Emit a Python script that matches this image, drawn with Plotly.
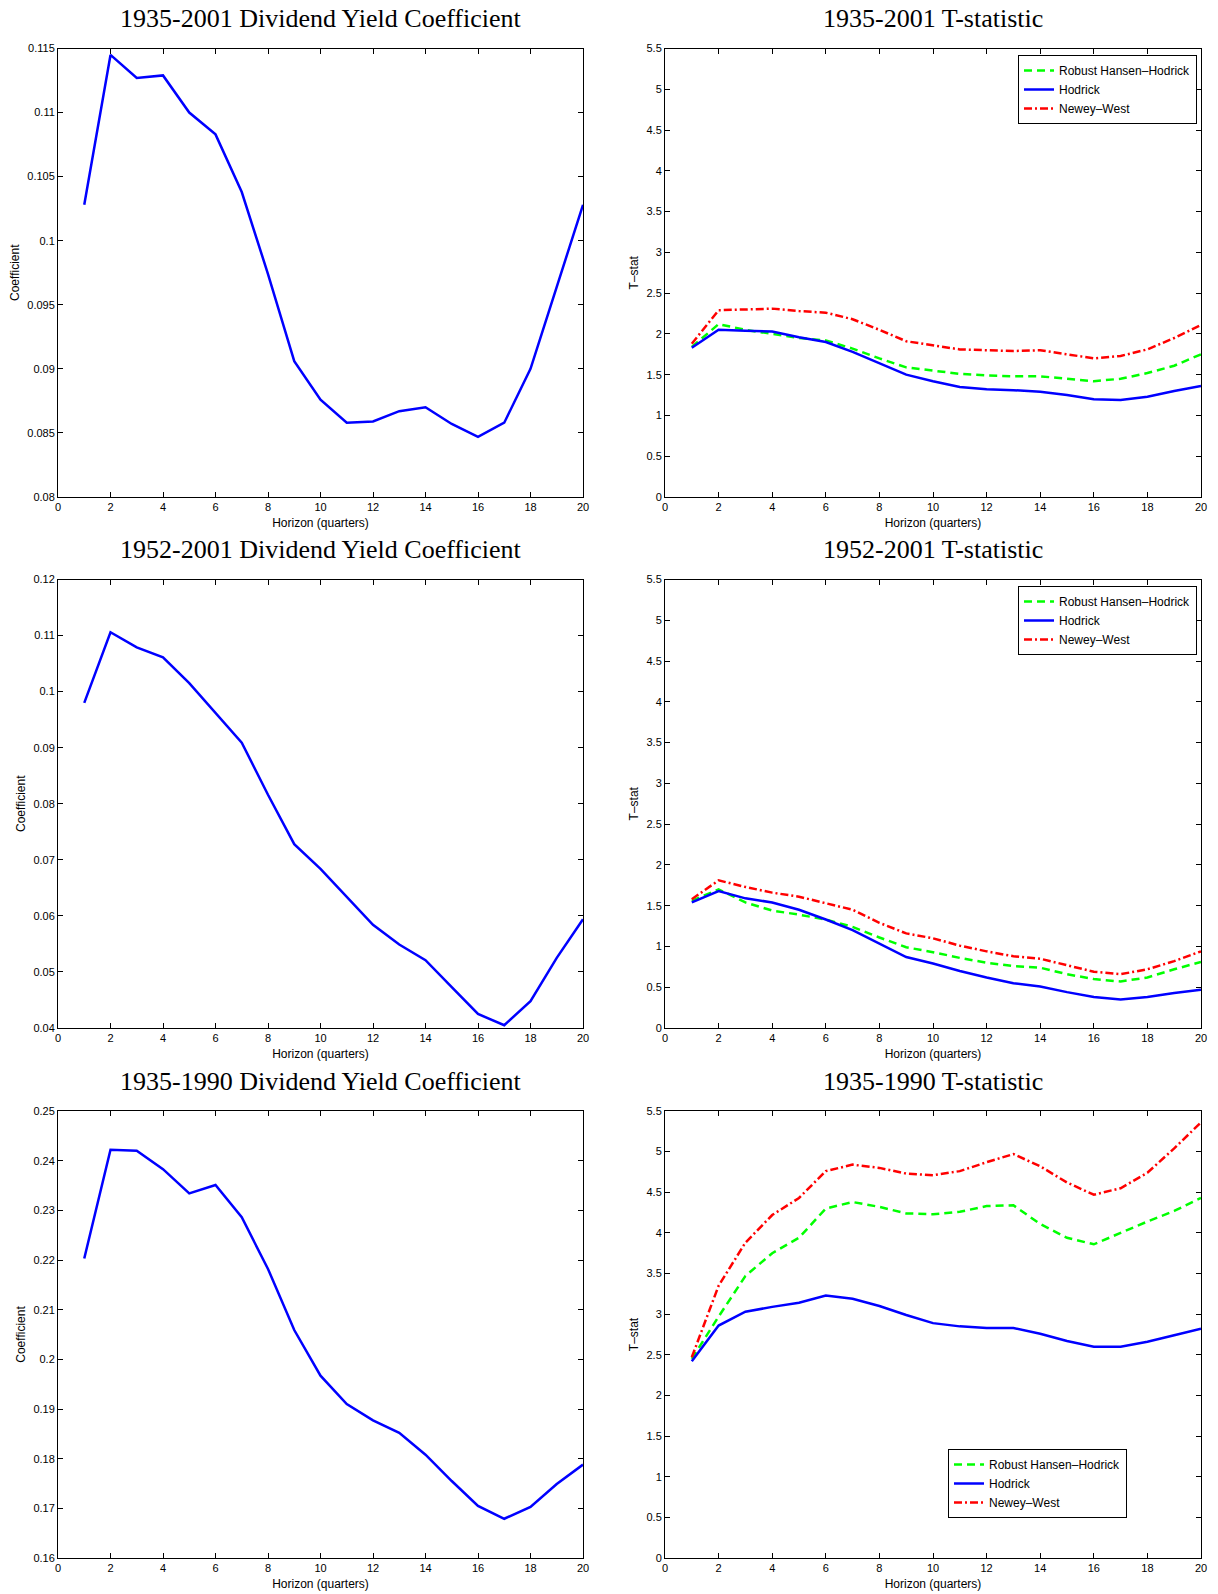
import plotly.graph_objects as go

horizon = list(range(1, 21))

coef_1935_2001 = [0.1028, 0.1145, 0.1127, 0.1129, 0.1100, 0.1083, 0.1038, 0.0974, 0.0906, 0.0876,
                  0.0858, 0.0859, 0.0867, 0.0870, 0.0857, 0.0847, 0.0858, 0.0900, 0.0964, 0.1028]
rhh_1935_2001 = [1.84, 2.12, 2.05, 2.00, 1.95, 1.92, 1.82, 1.70, 1.59, 1.55,
                 1.51, 1.49, 1.48, 1.48, 1.45, 1.42, 1.45, 1.52, 1.61, 1.75]
hod_1935_2001 = [1.83, 2.05, 2.04, 2.03, 1.96, 1.90, 1.78, 1.64, 1.50, 1.42,
                 1.35, 1.32, 1.31, 1.29, 1.25, 1.20, 1.19, 1.23, 1.30, 1.36]
nw_1935_2001 = [1.88, 2.29, 2.30, 2.31, 2.28, 2.26, 2.18, 2.05, 1.91, 1.86,
                1.81, 1.80, 1.79, 1.80, 1.75, 1.70, 1.73, 1.81, 1.95, 2.11]

coef_1952_2001 = [0.0980, 0.1106, 0.1079, 0.1061, 0.1015, 0.0962, 0.0909, 0.0816, 0.0728, 0.0684,
                  0.0634, 0.0584, 0.0549, 0.0521, 0.0473, 0.0425, 0.0405, 0.0448, 0.0525, 0.0594]
rhh_1952_2001 = [1.56, 1.70, 1.54, 1.44, 1.39, 1.33, 1.24, 1.11, 0.99, 0.93,
                 0.86, 0.80, 0.76, 0.74, 0.66, 0.60, 0.57, 0.62, 0.72, 0.81]
hod_1952_2001 = [1.54, 1.68, 1.59, 1.54, 1.45, 1.33, 1.20, 1.03, 0.87, 0.79,
                 0.70, 0.62, 0.55, 0.51, 0.44, 0.38, 0.35, 0.38, 0.43, 0.47]
nw_1952_2001 = [1.58, 1.81, 1.73, 1.66, 1.61, 1.53, 1.45, 1.29, 1.16, 1.10,
                1.01, 0.94, 0.88, 0.85, 0.77, 0.69, 0.66, 0.72, 0.82, 0.94]

coef_1935_1990 = [0.2203, 0.2422, 0.2420, 0.2383, 0.2334, 0.2351, 0.2286, 0.2182, 0.2059, 0.1967,
                  0.1910, 0.1877, 0.1852, 0.1808, 0.1755, 0.1705, 0.1679, 0.1703, 0.1749, 0.1788]
rhh_1935_1990 = [2.45, 2.97, 3.47, 3.75, 3.94, 4.30, 4.38, 4.32, 4.24, 4.23,
                 4.26, 4.33, 4.34, 4.11, 3.94, 3.86, 4.00, 4.14, 4.27, 4.43]
hod_1935_1990 = [2.42, 2.86, 3.03, 3.09, 3.14, 3.23, 3.19, 3.10, 2.99, 2.89,
                 2.85, 2.83, 2.83, 2.76, 2.67, 2.60, 2.60, 2.66, 2.74, 2.82]
nw_1935_1990 = [2.47, 3.35, 3.88, 4.22, 4.43, 4.76, 4.84, 4.80, 4.73, 4.71,
                4.76, 4.87, 4.97, 4.82, 4.62, 4.47, 4.55, 4.74, 5.04, 5.36]

x_ticks = list(range(0, 21, 2))
coef1_ticks = [0.08, 0.085, 0.09, 0.095, 0.1, 0.105, 0.11, 0.115]
coef1_labels = ["0.08", "0.085", "0.09", "0.095", "0.1", "0.105", "0.11", "0.115"]
coef2_ticks = [0.04, 0.05, 0.06, 0.07, 0.08, 0.09, 0.1, 0.11, 0.12]
coef2_labels = ["0.04", "0.05", "0.06", "0.07", "0.08", "0.09", "0.1", "0.11", "0.12"]
coef3_ticks = [0.16, 0.17, 0.18, 0.19, 0.2, 0.21, 0.22, 0.23, 0.24, 0.25]
coef3_labels = ["0.16", "0.17", "0.18", "0.19", "0.2", "0.21", "0.22", "0.23", "0.24", "0.25"]
t_ticks = [0, 0.5, 1, 1.5, 2, 2.5, 3, 3.5, 4, 4.5, 5, 5.5]
t_labels = ["0", "0.5", "1", "1.5", "2", "2.5", "3", "3.5", "4", "4.5", "5", "5.5"]

titles_left = ["1935-2001 Dividend Yield Coefficient", "1952-2001 Dividend Yield Coefficient",
               "1935-1990 Dividend Yield Coefficient"]
titles_right = ["1935-2001 T-statistic", "1952-2001 T-statistic", "1935-1990 T-statistic"]
series_names = ["Robust Hansen\u2013Hodrick", "Hodrick", "Newey\u2013West"]

W, H = 1218, 1594
SANS = "Liberation Sans, Arial, sans-serif"
SERIF = "Liberation Serif, Times New Roman, serif"

left_dom = [58 / W, 583 / W]
right_dom = [665 / W, 1201 / W]
row_px = [(48.5, 497), (579.5, 1028), (1111, 1558)]
row_dom = [[1 - b / H, 1 - t / H] for t, b in row_px]

fig = go.Figure()

coefs = [coef_1935_2001, coef_1952_2001, coef_1935_1990]
coef_ticks = [(coef1_ticks, coef1_labels, [0.08, 0.115]),
              (coef2_ticks, coef2_labels, [0.04, 0.12]),
              (coef3_ticks, coef3_labels, [0.16, 0.25])]
tstats = [(rhh_1935_2001, hod_1935_2001, nw_1935_2001),
          (rhh_1952_2001, hod_1952_2001, nw_1952_2001),
          (rhh_1935_1990, hod_1935_1990, nw_1935_1990)]

styles = [dict(color="#00FF00", dash="8px,5px"), dict(color="#0000FF", dash="solid"),
          dict(color="#FF0000", dash="8px,3px,2px,3px")]

axis_common = dict(showline=True, linecolor="black", linewidth=1, mirror="allticks",
                   ticks="inside", ticklen=5, tickwidth=1, tickcolor="black",
                   showgrid=False, zeroline=False, automargin=False,
                   tickfont=dict(family=SANS, size=11, color="black"))
title_font = dict(family=SANS, size=12, color="black")

legend_names = ["legend", "legend2", "legend3"]
legend_pos = [(1197 / W, 1 - 55 / H, "top"), (1197 / W, 1 - 586 / H, "top"),
              (1127 / W, 1 - 1518 / H, "bottom")]

annotations = []
for r in range(3):
    lx = 2 * r + 1
    rx = 2 * r + 2
    xl = "x" if lx == 1 else f"x{lx}"
    yl = "y" if lx == 1 else f"y{lx}"
    xr, yr = f"x{rx}", f"y{rx}"
    fig.add_trace(go.Scatter(x=horizon, y=coefs[r], mode="lines", xaxis=xl, yaxis=yl,
                             line=dict(color="#0000FF", width=2.5), showlegend=False))
    for s in range(3):
        fig.add_trace(go.Scatter(x=horizon, y=tstats[r][s], mode="lines", xaxis=xr, yaxis=yr,
                                 name=series_names[s], legend=legend_names[r],
                                 line=dict(width=2.5, **styles[s])))
    tv, tt, rng = coef_ticks[r]
    lkey = "xaxis" if lx == 1 else f"xaxis{lx}"
    lykey = "yaxis" if lx == 1 else f"yaxis{lx}"
    xtitle = dict(text="Horizon (quarters)", font=title_font, standoff=6)
    fig.layout[lkey] = dict(domain=left_dom, anchor=yl, range=[0, 20], tickvals=x_ticks,
                            title=xtitle, **axis_common)
    fig.layout[lykey] = dict(domain=row_dom[r], anchor=xl, range=rng, tickvals=tv, ticktext=tt,
                             title=dict(text="Coefficient", font=title_font, standoff=5),
                             **axis_common)
    fig.layout[f"xaxis{rx}"] = dict(domain=right_dom, anchor=yr, range=[0, 20], tickvals=x_ticks,
                                    title=xtitle, **axis_common)
    fig.layout[f"yaxis{rx}"] = dict(domain=row_dom[r], anchor=xr, range=[0, 5.5], tickvals=t_ticks,
                                    ticktext=t_labels,
                                    title=dict(text="T\u2013stat", font=title_font, standoff=5),
                                    **axis_common)
    ty = 1 - (row_px[r][0] - 30) / H
    annotations.append(dict(text=titles_left[r], x=(left_dom[0] + left_dom[1]) / 2, y=ty,
                            xref="paper", yref="paper", showarrow=False, xanchor="center", yanchor="middle",
                            font=dict(family=SERIF, size=26, color="black")))
    annotations.append(dict(text=titles_right[r], x=(right_dom[0] + right_dom[1]) / 2, y=ty,
                            xref="paper", yref="paper", showarrow=False, xanchor="center", yanchor="middle",
                            font=dict(family=SERIF, size=26, color="black")))
    lx_pos, ly_pos, yanch = legend_pos[r]
    fig.layout[legend_names[r]] = dict(x=lx_pos, y=ly_pos, xanchor="right", yanchor=yanch,
                                       xref="paper", yref="paper",
                                       bgcolor="white", bordercolor="black", borderwidth=1,
                                       font=dict(family=SANS, size=12, color="black"),
                                       tracegroupgap=0, itemwidth=30)

fig.update_layout(width=W, height=H, margin=dict(l=0, r=0, t=0, b=0, autoexpand=False),
                  paper_bgcolor="white", plot_bgcolor="white", annotations=annotations)

fig.write_html("out.html", config={"displayModeBar": False},
               post_script="document.body.style.margin='0';")
